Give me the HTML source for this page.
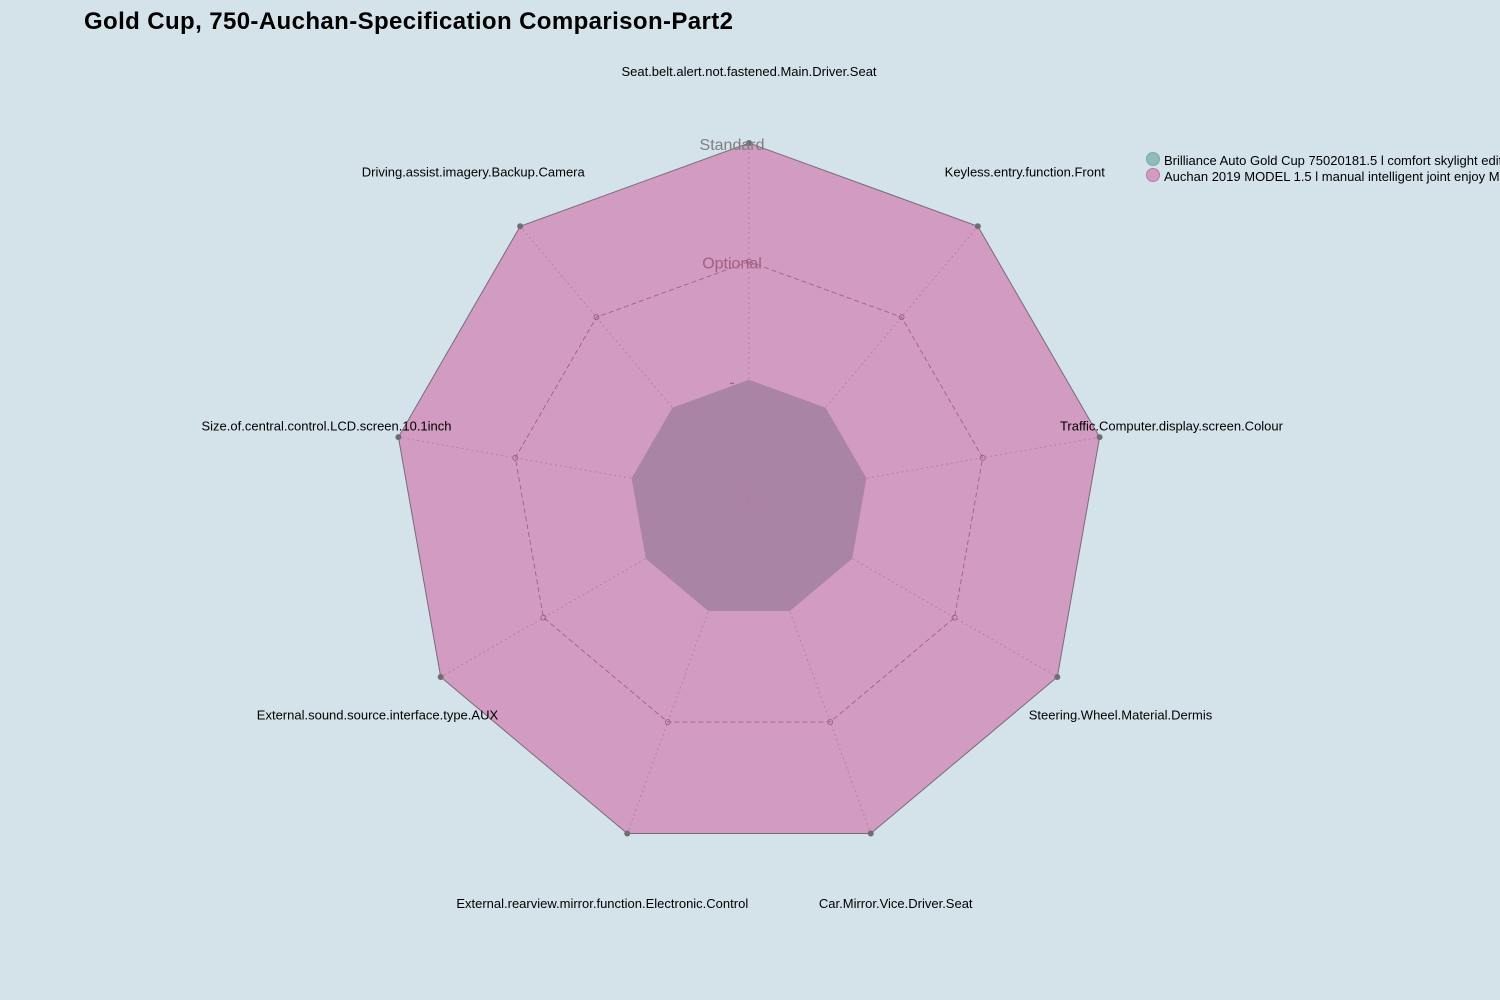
<!DOCTYPE html>
<html><head><meta charset="utf-8"><style>
html,body{margin:0;padding:0;background:#d4e3ea;}
svg{display:block;font-family:"Liberation Sans",sans-serif;}
</style></head><body>
<svg id="chart" width="1500" height="1000">
<rect width="1500" height="1000" fill="#d4e3ea"/>
<text x="84" y="29" font-size="24" font-weight="bold" fill="#000" textLength="649">Gold Cup, 750-Auchan-Specification Comparison-Part2</text>
<g id="plot"></g>
<g>
<g><circle cx="1153" cy="159" r="6.5" fill="#93b9bb" stroke="#7aa" stroke-width="1"/><text x="1164" y="165" font-size="13" fill="#000">Brilliance Auto Gold Cup 75020181.5 l comfort skylight edition</text></g>
<g><circle cx="1153" cy="175" r="6.5" fill="#d49bc2" stroke="#b7a" stroke-width="1"/><text x="1164" y="181" font-size="13" fill="#000">Auchan 2019 MODEL 1.5 l manual intelligent joint enjoy MODEL</text></g>
</g>
</svg>
<script>
const categories=["Seat.belt.alert.not.fastened.Main.Driver.Seat","Keyless.entry.function.Front","Traffic.Computer.display.screen.Colour","Steering.Wheel.Material.Dermis","Car.Mirror.Vice.Driver.Seat","External.rearview.mirror.function.Electronic.Control","External.sound.source.interface.type.AUX","Size.of.central.control.LCD.screen.10.1inch","Driving.assist.imagery.Backup.Camera"];
const levelLabels=["-","Optional","Standard"];
const goldCup=[1,1,1,1,1,1,1,1,1];
const auchan=[3,3,3,3,3,3,3,3,3];
const NS="http://www.w3.org/2000/svg";
const cx=749,cy=499,R=356,maxV=3;
const g=document.getElementById('plot');
function ang(i){return i*2*Math.PI/categories.length;}
function pt(i,v){const r=v/maxV*R;return [cx+r*Math.sin(ang(i)),cy-r*Math.cos(ang(i))];}
function mk(t,a){const e=document.createElementNS(NS,t);for(const k in a)e.setAttribute(k,a[k]);g.appendChild(e);return e;}
function poly(vals){return vals.map((v,i)=>pt(i,v).join(',')).join(' ');}
let p=mk('polygon',{points:poly(auchan),fill:'#d29bc1',stroke:'#7a6a78','stroke-width':1});


p=mk('polygon',{points:poly(goldCup),fill:'#a984a4',stroke:'#a984a4','stroke-width':1});


categories.forEach((c,i)=>{const [x,y]=pt(i,maxV);const l=mk('line',{x1:cx,y1:cy,x2:x,y2:y,stroke:'#b5799f','stroke-width':0.8,'stroke-dasharray':'2,3'});

});
p=mk('polygon',{points:poly(categories.map(()=>2)),fill:'none',stroke:'#9a5a82','stroke-width':0.8,'stroke-dasharray':'5,3'});


categories.forEach((c,i)=>{const [x,y]=pt(i,2);const e=mk('circle',{cx:x,cy:y,r:2.5,fill:'none',stroke:'#9a5a82','stroke-width':0.8});

});
auchan.forEach((v,i)=>{const [x,y]=pt(i,v);const e=mk('circle',{cx:x,cy:y,r:3,fill:'#6e6e6e'});

});
levelLabels.forEach((t,k)=>{const e=mk('text',{x:cx-17,y:cy-(k+1)/maxV*R+7,'font-size':16,'text-anchor':'middle',fill:k==2?'#7f7f7f':'#a2607f'});e.textContent=t;

});
categories.forEach((c,i)=>{const r=429;const x=cx+r*Math.sin(ang(i)),y=cy-r*Math.cos(ang(i));const e=mk('text',{x:x,y:y+6,'font-size':13,'text-anchor':'middle',fill:'#000'});e.textContent=c;

});
</script>
</body></html>
